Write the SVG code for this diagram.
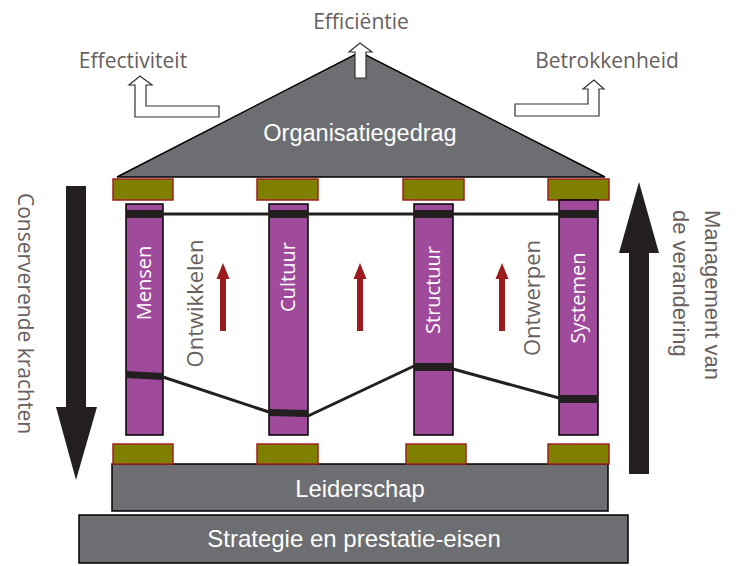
<svg xmlns="http://www.w3.org/2000/svg" width="738" height="566" viewBox="0 0 738 566">
<style>
.lbl{font-family:"Open Sans","Noto Sans",sans-serif;fill:#675f60}
.alb{font-family:"Liberation Sans",Arial,sans-serif;fill:#675f60}
.wlbl{font-family:"Liberation Sans",Arial,sans-serif;fill:#ffffff}
.plbl{font-family:"Open Sans","Noto Sans",sans-serif;fill:#ffffff;font-size:20px;text-anchor:middle}
.grey{fill:#6d6e71;stroke:#000;stroke-width:1.5}
.pillar{fill:#9f4a9b;stroke:#000;stroke-width:1.5}
.block{fill:#808000;stroke:#a0201f;stroke-width:1.5}
.band{fill:#231f20}
.link{stroke:#231f20;stroke-width:3;fill:none}
.warrow{fill:#fff;stroke:#333;stroke-width:1.2}
.red{fill:#9b1b1e}
.big{fill:#231f20}
</style>
<rect width="738" height="566" fill="#fff"/>

<g id="roof">
<polygon class="grey" points="117,177 360,52 605,177"/>
<text class="wlbl" x="360" y="141" font-size="23.5" text-anchor="middle">Organisatiegedrag</text>
</g>

<g id="efficientie">
<polygon class="warrow" points="355,78 355,52 349,52 360,43 372,52 366,52 366,78"/>
<text class="lbl" x="361" y="29" font-size="21" text-anchor="middle">Efficiëntie</text>
</g>
<g id="effectiviteit">
<polygon class="warrow" points="219,106 146,106 146,85 152,85 140,76 129,85 135,85 135,117 219,117"/>
<text class="lbl" x="133" y="68" font-size="21" text-anchor="middle">Effectiviteit</text>
</g>
<g id="betrokkenheid">
<polygon class="warrow" points="515,104 588,104 588,89 583,89 594,80 604,89 599,89 599,116 515,116"/>
<text class="lbl" x="607" y="68" font-size="21" text-anchor="middle">Betrokkenheid</text>
</g>

<g id="leiderschap">
<rect class="grey" x="112" y="464" width="496" height="47"/>
<text class="wlbl" x="360" y="497" font-size="23.8" text-anchor="middle">Leiderschap</text>
</g>
<g id="strategie">
<rect class="grey" x="79" y="515" width="549" height="48"/>
<text class="wlbl" x="354" y="547" font-size="24" text-anchor="middle">Strategie en prestatie-eisen</text>
</g>

<g id="blocks">
<rect class="block" x="113" y="179" width="60" height="21"/>
<rect class="block" x="257" y="179" width="61" height="21"/>
<rect class="block" x="403" y="179" width="61" height="21"/>
<rect class="block" x="548" y="179" width="61" height="21"/>
<rect class="block" x="113" y="444" width="60" height="20"/>
<rect class="block" x="257" y="444" width="61" height="20"/>
<rect class="block" x="406" y="444" width="60" height="20"/>
<rect class="block" x="548" y="444" width="61" height="20"/>
</g>

<g id="mensen">
<rect class="pillar" x="126" y="204" width="37" height="231"/>
<rect class="band" x="126" y="210" width="37" height="8"/>
<polygon class="band" points="126,371 163,373 163,380 126,378"/>
<text class="plbl" transform="translate(151,283) rotate(-90)">Mensen</text>
</g>
<g id="cultuur">
<rect class="pillar" x="269" y="204" width="39" height="231"/>
<rect class="band" x="269" y="210" width="39" height="8"/>
<polygon class="band" points="269,409 308,410 308,417 269,416"/>
<text class="plbl" transform="translate(295,277) rotate(-90)">Cultuur</text>
</g>
<g id="structuur">
<rect class="pillar" x="414" y="204" width="39" height="231"/>
<rect class="band" x="414" y="210" width="39" height="8"/>
<rect class="band" x="414" y="363" width="39" height="8"/>
<text class="plbl" transform="translate(440,290) rotate(-90)">Structuur</text>
</g>
<g id="systemen">
<rect class="pillar" x="559" y="200" width="39" height="235"/>
<rect class="band" x="559" y="210" width="39" height="8"/>
<rect class="band" x="559" y="395" width="39" height="8"/>
<text class="plbl" transform="translate(585,298) rotate(-90)">Systemen</text>
</g>

<g id="connectors">
<line class="link" x1="163" y1="214" x2="559" y2="214" stroke-width="4"/>
<line class="link" x1="163" y1="377" x2="269" y2="412"/>
<line class="link" x1="308" y1="416" x2="414" y2="366"/>
<line class="link" x1="453" y1="369" x2="559" y2="398"/>
</g>

<g id="ontwikkelen">
<polygon class="red" points="220,331 220,279 216.5,279 223,263 229.5,279 226,279 226,331"/>
<text class="lbl" transform="translate(203,303.5) rotate(-90)" font-size="22" text-anchor="middle">Ontwikkelen</text>
</g>
<g id="midarrow">
<polygon class="red" points="357,331 357,279 353.5,279 360,263 366.5,279 363,279 363,331"/>
</g>
<g id="ontwerpen">
<polygon class="red" points="499,331 499,279 495.5,279 502,263 508.5,279 505,279 505,331"/>
<text class="lbl" transform="translate(540,298) rotate(-90)" font-size="22" text-anchor="middle">Ontwerpen</text>
</g>

<g id="conserverende">
<polygon class="big" points="66,186 86,186 86,407 97,407 76,480 56,407 66,407"/>
<text class="lbl" transform="translate(18,193) rotate(90)" font-size="21">Conserverende krachten</text>
</g>
<g id="management">
<polygon class="big" points="629,474 649,474 649,253 659,253 639,182 619,253 629,253"/>
<text class="alb" transform="translate(705,210) rotate(90)" font-size="22">Management van</text>
<text class="alb" transform="translate(673,210) rotate(90)" font-size="22">de verandering</text>
</g>
</svg>
